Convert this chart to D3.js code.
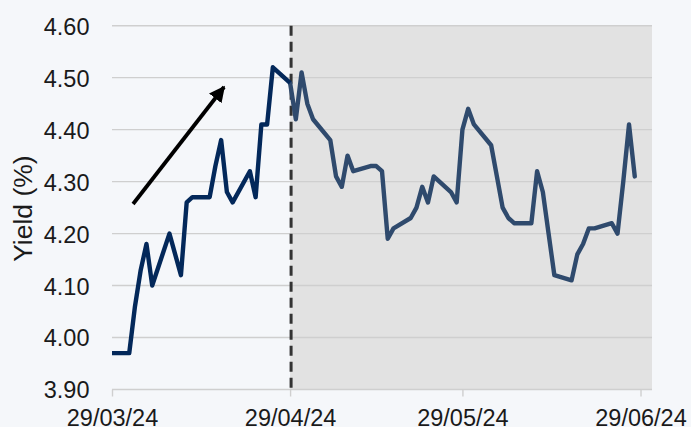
<!DOCTYPE html>
<html>
<head>
<meta charset="utf-8">
<script src="https://cdn.jsdelivr.net/npm/d3@7"></script>
<style>
  html, body { margin: 0; padding: 0; background: #f5f7fa; }
  svg { display: block; font-family: "Liberation Sans", Arial, sans-serif; }
</style>
</head>
<body>
<svg id="chart" width="691" height="427"></svg>
<script>
// ---- data ----
const dates1 = ["2024-03-29","2024-04-01","2024-04-02","2024-04-03","2024-04-04","2024-04-05",
  "2024-04-08","2024-04-09","2024-04-10","2024-04-11","2024-04-12",
  "2024-04-15","2024-04-16","2024-04-17","2024-04-18","2024-04-19",
  "2024-04-22","2024-04-23","2024-04-24","2024-04-25","2024-04-26","2024-04-29"];
const yields1 = [3.97,3.97,4.06,4.13,4.18,4.10,
  4.20,4.16,4.12,4.26,4.27,
  4.27,4.33,4.38,4.28,4.26,
  4.32,4.27,4.41,4.41,4.52,4.49];

const dates2 = ["2024-04-29","2024-04-30","2024-05-01","2024-05-02","2024-05-03",
  "2024-05-06","2024-05-07","2024-05-08","2024-05-09","2024-05-10",
  "2024-05-13","2024-05-14","2024-05-15","2024-05-16","2024-05-17",
  "2024-05-20","2024-05-21","2024-05-22","2024-05-23","2024-05-24",
  "2024-05-27","2024-05-28","2024-05-29","2024-05-30","2024-05-31",
  "2024-06-03","2024-06-04","2024-06-05","2024-06-06","2024-06-07",
  "2024-06-10","2024-06-11","2024-06-12","2024-06-13","2024-06-14",
  "2024-06-17","2024-06-18","2024-06-19","2024-06-20","2024-06-21",
  "2024-06-24","2024-06-25","2024-06-26","2024-06-27","2024-06-28"];
const yields2 = [4.49,4.42,4.51,4.45,4.42,
  4.38,4.31,4.29,4.35,4.32,
  4.33,4.33,4.32,4.19,4.21,
  4.23,4.25,4.29,4.26,4.31,
  4.28,4.26,4.40,4.44,4.41,
  4.37,4.31,4.25,4.23,4.22,
  4.22,4.32,4.28,4.20,4.12,
  4.11,4.16,4.18,4.21,4.21,
  4.22,4.20,4.30,4.41,4.31];

const xTickDates = ["2024-03-29","2024-04-29","2024-05-29","2024-06-29"];
const yTicks = [3.90,4.00,4.10,4.20,4.30,4.40,4.50,4.60];
const xDomain = ["2024-03-29","2024-07-01"];
const yDomain = [3.90, 4.60];
const shadeStart = "2024-04-29";
const arrowFrom = {date: "2024-04-01T16:00", value: 4.257};
const arrowTo = {date: "2024-04-17T12:00", value: 4.482};
const yLabel = "Yield (%)";

// ---- drawing ----
const parse = d3.isoParse;
const fmt = d3.timeFormat("%d/%m/%y");
const svg = d3.select("#chart");

const x = d3.scaleTime().domain(xDomain.map(parse)).range([112, 652]);
const y = d3.scaleLinear().domain(yDomain).range([389.5, 25.7]);

// shaded region
svg.append("rect")
  .attr("x", x(parse(shadeStart)))
  .attr("y", y(yDomain[1]))
  .attr("width", x.range()[1] - x(parse(shadeStart)))
  .attr("height", y(yDomain[0]) - y(yDomain[1]))
  .attr("fill", "#e2e2e2");

// gridlines
svg.append("g").selectAll("line").data(yTicks).join("line")
  .attr("x1", x.range()[0]).attr("x2", x.range()[1])
  .attr("y1", d => y(d)).attr("y2", d => y(d))
  .attr("stroke", "#cfcfcf").attr("stroke-width", 1.4);

// y axis labels
const yAxis = d3.axisLeft(y).tickValues(yTicks).tickFormat(d3.format(".2f")).tickSize(0).tickPadding(0);
const gy = svg.append("g").attr("transform", "translate(89.5,0)").call(yAxis);
gy.select(".domain").remove();
gy.selectAll("text").attr("font-size", "23.5px").attr("fill", "#1a1a1a")
  .attr("font-family", "Liberation Sans, Arial, sans-serif").attr("dy", "0.36em");

// x axis
const xAxis = d3.axisBottom(x).tickValues(xTickDates.map(parse)).tickFormat(fmt).tickSize(7).tickPadding(13);
const gx = svg.append("g").attr("transform", `translate(0,${y(yDomain[0])})`).call(xAxis);
gx.select(".domain").remove();
gx.selectAll(".tick line").attr("stroke", "#cfcfcf").attr("stroke-width", 1.4);
gx.selectAll("text").attr("font-size", "23.5px").attr("fill", "#1a1a1a")
  .attr("font-family", "Liberation Sans, Arial, sans-serif");

// y label
svg.append("text")
  .attr("transform", `translate(31.5,${(y(yDomain[0]) + y(yDomain[1])) / 2 + 1})rotate(-90)`)
  .attr("text-anchor", "middle")
  .attr("font-size", "26.5px").attr("fill", "#1a1a1a")
  .text(yLabel);

// dashed divider
svg.append("line")
  .attr("x1", x(parse(shadeStart)) + 1).attr("x2", x(parse(shadeStart)) + 1)
  .attr("y1", y(yDomain[1])).attr("y2", y(yDomain[0]))
  .attr("stroke", "#333333").attr("stroke-width", 3)
  .attr("stroke-dasharray", "10,6");

// lines
const line = d3.line().x(d => x(d[0])).y(d => y(d[1]));
const s1 = dates1.map((d, i) => [parse(d), yields1[i]]);
const s2 = dates2.map((d, i) => [parse(d), yields2[i]]);
svg.append("path").datum(s2).attr("d", line)
  .attr("fill", "none").attr("stroke", "#2f4a6d").attr("stroke-width", 4.4)
  .attr("stroke-linejoin", "round").attr("stroke-linecap", "round");
svg.append("path").datum(s1).attr("d", line)
  .attr("fill", "none").attr("stroke", "#03285a").attr("stroke-width", 4.4)
  .attr("stroke-linejoin", "round").attr("stroke-linecap", "butt");

// arrow
svg.append("defs").append("marker")
  .attr("id", "ah").attr("viewBox", "0 0 10 10").attr("refX", 9).attr("refY", 5)
  .attr("markerWidth", 4.2).attr("markerHeight", 4.2).attr("orient", "auto")
  .append("path").attr("d", "M0,0L10,5L0,10z").attr("fill", "#000");
svg.append("line")
  .attr("x1", x(parse(arrowFrom.date))).attr("y1", y(arrowFrom.value))
  .attr("x2", x(parse(arrowTo.date))).attr("y2", y(arrowTo.value))
  .attr("stroke", "#000").attr("stroke-width", 3.8)
  .attr("marker-end", "url(#ah)");
</script>
</body>
</html>
